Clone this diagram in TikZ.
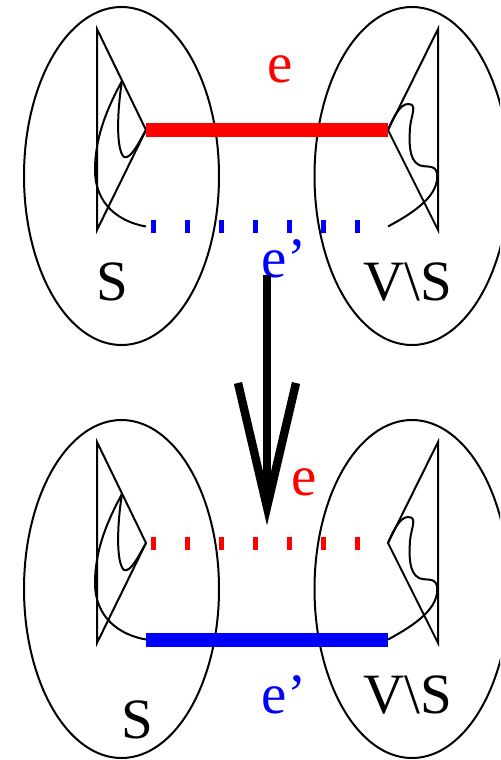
\documentclass[tikz,border=0pt]{standalone}
\usepackage{fontspec}
\setmainfont{Liberation Serif}
\usepackage{xcolor}
\usepackage{tikz}
\usetikzlibrary{shapes.geometric}
\definecolor{cutred}{HTML}{FF0000}
\definecolor{cutblue}{HTML}{0000FF}

\begin{document}
\begin{tikzpicture}[x=0.5pt, y=-0.5pt,
  side/.style={ellipse, draw, line width=1pt, inner sep=0pt,
               minimum width=97.5pt, minimum height=169pt},
  thin/.style={line width=1pt, line join=miter},
  bar/.style={line width=7pt},
  gap/.style={line width=6.5pt, dash pattern=on 2.5pt off 14.5pt, dash phase=14.75pt},
  lab/.style={font=\fontsize{28.5}{30}\selectfont, inner sep=0pt, anchor=base},
  big/.style={line width=4.2pt, line join=miter}]
\clip (0,0) rectangle (500,760);
\foreach \p/\dy in {u/0, d/413} {
  \begin{scope}[shift={(0,\dy)}]
  \node[side] (sl\p) at (121.5,176) {};
  \node[side] (sr\p) at (412,176) {};
  \coordinate (la\p) at (146,130);
  \coordinate (ra\p) at (388,130);
  \coordinate (lc\p) at (146,226.5);
  \coordinate (rc\p) at (388,226.5);
  \draw[thin] (97,29) -- (la\p) -- (97,230) -- cycle;
  \draw[thin] (438,29) -- (ra\p) -- (438,230) -- cycle;
  % left scribble
  \draw[thin] (122,81) .. controls (117,112) and (116,150) .. (124,157)
              .. controls (131,160) and (140,140) .. (la\p);
  \draw[thin] (122,81) .. controls (105,112) and (95,140) .. (95,170)
              .. controls (95,205) and (120,222) .. (lc\p);
  % right scribble
  \draw[thin] (rc\p) .. controls (415,212) and (440,195) .. (437,173)
              .. controls (435,164) and (426,168) .. (419,165)
              .. controls (409,160) and (409,143) .. (410,128)
              .. controls (411,115) and (418,104) .. (408,104)
              .. controls (400,104) and (393,118) .. (ra\p);
  \end{scope}
}
% the two cut edges
\draw[bar, cutred] (lau) -- (rau);
\draw[gap, cutblue] (lcu) -- (rcu);
\draw[gap, cutred] (lad) -- (rad);
\draw[bar, cutblue] (lcd) -- (rcd);
% labels
\node[lab, cutred] (eu) at (280,82) {e};
\node[lab, cutblue] (fu) at (284,277) {e'};
\node[lab] (su) at (112,300) {S};
\node[lab] (vu) at (408,300) {V\textbackslash S};
\node[lab, cutred] (ed) at (304,495) {e};
\node[lab, cutblue] (fd) at (284,713) {e'};
\node[lab] (sd) at (137,738) {S};
\node[lab] (vd) at (408,713) {V\textbackslash S};
% swap arrow
\coordinate (atop) at (267,275);
\coordinate (atip) at (267,507);
\coordinate (bl) at (238,383);
\coordinate (br) at (296,383);
\draw[big] (atop) -- (atip);
\draw[big] (bl) -- (atip) -- (br);
\end{tikzpicture}
\end{document}
